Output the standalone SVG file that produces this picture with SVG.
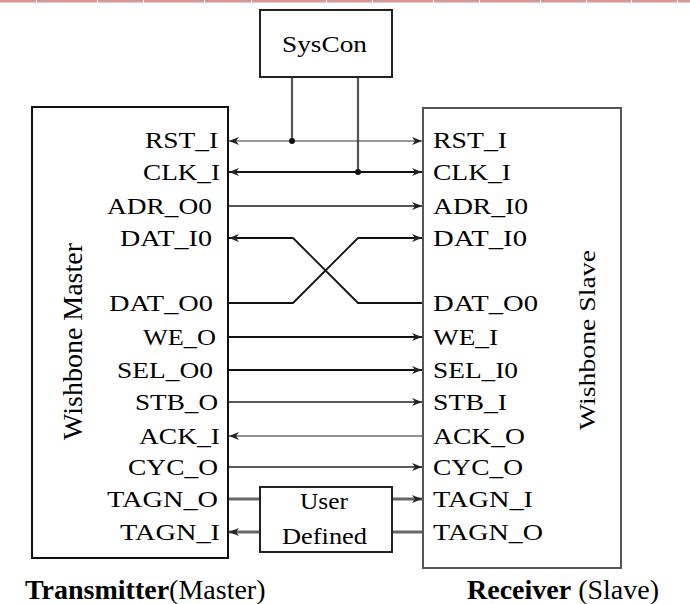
<svg xmlns="http://www.w3.org/2000/svg" width="690" height="604" viewBox="0 0 690 604">
<defs>
<style>
.lbl{font-family:"Liberation Serif","Times New Roman",serif;font-size:24px;fill:#000}
.cap{font-family:"Liberation Serif","Times New Roman",serif;font-size:28px;fill:#000}
.box{fill:#fff;stroke-width:2}
</style>
<marker id="arr" viewBox="0 0 10 8" refX="10" refY="4" markerWidth="10" markerHeight="8" markerUnits="userSpaceOnUse" orient="auto-start-reverse">
<path d="M0,0 L10,4 L0,8 L3,4 Z" fill="#222"/>
</marker>
</defs>
<rect width="690" height="604" fill="#fff"/>
<g id="topline">
<rect x="0" y="0" width="690" height="2.5" fill="#d99494"/>
<g fill="#fff">
<rect x="36" y="0" width="1" height="3"/><rect x="97" y="0" width="1" height="3"/><rect x="143" y="0" width="1" height="3"/><rect x="204" y="0" width="1" height="3"/><rect x="251" y="0" width="1" height="3"/><rect x="326" y="0" width="1" height="3"/><rect x="372" y="0" width="1" height="3"/><rect x="433" y="0" width="1" height="3"/><rect x="479" y="0" width="1" height="3"/><rect x="540" y="0" width="1" height="3"/><rect x="586" y="0" width="1" height="3"/><rect x="631" y="0" width="1" height="3"/><rect x="677" y="0" width="1" height="3"/>
</g>
</g>

<g id="connectors" fill="none">
<path d="M292,77 V141 M358,77 V172" stroke="#555" stroke-width="2.2"/>
<path d="M229,141 H422" stroke="#333" stroke-width="1.2" marker-start="url(#arr)" marker-end="url(#arr)"/>
<path d="M229,172 H422" stroke="#111" stroke-width="2" marker-start="url(#arr)" marker-end="url(#arr)"/>
<circle cx="292" cy="141" r="3" fill="#111"/>
<circle cx="358" cy="172" r="3" fill="#111"/>
<path d="M229,206 H422" stroke="#555" stroke-width="2" marker-end="url(#arr)"/>
<path d="M229,303 H293 L358,238 H422" stroke="#111" stroke-width="1.8" marker-end="url(#arr)"/>
<path d="M422,303 H358 L293,238 H229" stroke="#111" stroke-width="1.8" marker-end="url(#arr)"/>
<path d="M229,337 H422" stroke="#111" stroke-width="2" marker-end="url(#arr)"/>
<path d="M229,370 H422" stroke="#111" stroke-width="2.2" marker-end="url(#arr)"/>
<path d="M229,402 H422" stroke="#222" stroke-width="1.3" marker-end="url(#arr)"/>
<path d="M422,436 H229" stroke="#222" stroke-width="1.2" marker-end="url(#arr)"/>
<path d="M229,467 H422" stroke="#222" stroke-width="1.6" marker-end="url(#arr)"/>
<path d="M229,499 H260" stroke="#666" stroke-width="3"/>
<path d="M392,499 H422" stroke="#666" stroke-width="3" marker-end="url(#arr)"/>
<path d="M422,532 H392" stroke="#666" stroke-width="3"/>
<path d="M260,532 H229" stroke="#666" stroke-width="3" marker-end="url(#arr)"/>
</g>

<g id="syscon">
<rect class="box" x="260" y="10" width="132" height="67" stroke="#222"/>
<text class="lbl" x="282" y="52" font-size="25" textLength="85" lengthAdjust="spacingAndGlyphs">SysCon</text>
</g>

<g id="master">
<rect class="box" x="32" y="107" width="196" height="451" stroke="#111"/>
<text class="lbl" transform="translate(82,440) scale(1.1,1) rotate(-90)" font-size="28" textLength="197" lengthAdjust="spacingAndGlyphs">Wishbone Master</text>
<g class="lbl">
<text x="145" y="148" textLength="73" lengthAdjust="spacingAndGlyphs">RST_I</text>
<text x="143" y="180" textLength="77" lengthAdjust="spacingAndGlyphs">CLK_I</text>
<text x="107" y="214" textLength="105" lengthAdjust="spacingAndGlyphs">ADR_O0</text>
<text x="120" y="246" textLength="92" lengthAdjust="spacingAndGlyphs">DAT_I0</text>
<text x="109" y="311" textLength="104" lengthAdjust="spacingAndGlyphs">DAT_O0</text>
<text x="143" y="345" textLength="73" lengthAdjust="spacingAndGlyphs">WE_O</text>
<text x="117" y="378" textLength="96" lengthAdjust="spacingAndGlyphs">SEL_O0</text>
<text x="135" y="410" textLength="83" lengthAdjust="spacingAndGlyphs">STB_O</text>
<text x="139" y="444" textLength="81" lengthAdjust="spacingAndGlyphs">ACK_I</text>
<text x="128" y="475" textLength="90" lengthAdjust="spacingAndGlyphs">CYC_O</text>
<text x="107" y="507" textLength="111" lengthAdjust="spacingAndGlyphs">TAGN_O</text>
<text x="120" y="540" textLength="100" lengthAdjust="spacingAndGlyphs">TAGN_I</text>
</g>
</g>

<g id="slave">
<rect class="box" x="423" y="108" width="198" height="460" stroke="#555"/>
<text class="lbl" transform="translate(595,430) scale(0.95,1) rotate(-90)" font-size="27" textLength="180" lengthAdjust="spacingAndGlyphs">Wishbone Slave</text>
<g class="lbl">
<text x="433" y="148" textLength="74" lengthAdjust="spacingAndGlyphs">RST_I</text>
<text x="433" y="180" textLength="78" lengthAdjust="spacingAndGlyphs">CLK_I</text>
<text x="433" y="214" textLength="95" lengthAdjust="spacingAndGlyphs">ADR_I0</text>
<text x="433" y="246" textLength="94" lengthAdjust="spacingAndGlyphs">DAT_I0</text>
<text x="433" y="311" textLength="105" lengthAdjust="spacingAndGlyphs">DAT_O0</text>
<text x="433" y="345" textLength="65" lengthAdjust="spacingAndGlyphs">WE_I</text>
<text x="433" y="378" textLength="85" lengthAdjust="spacingAndGlyphs">SEL_I0</text>
<text x="433" y="410" textLength="74" lengthAdjust="spacingAndGlyphs">STB_I</text>
<text x="433" y="444" textLength="92" lengthAdjust="spacingAndGlyphs">ACK_O</text>
<text x="433" y="475" textLength="90" lengthAdjust="spacingAndGlyphs">CYC_O</text>
<text x="433" y="507" textLength="100" lengthAdjust="spacingAndGlyphs">TAGN_I</text>
<text x="433" y="540" textLength="110" lengthAdjust="spacingAndGlyphs">TAGN_O</text>
</g>
</g>

<g id="userdefined">
<rect class="box" x="260" y="487" width="132" height="65" stroke="#222"/>
<text class="lbl" x="300" y="509" textLength="48" lengthAdjust="spacingAndGlyphs">User</text>
<text class="lbl" x="282" y="544" textLength="85" lengthAdjust="spacingAndGlyphs">Defined</text>
</g>

<g id="captions">
<text class="cap" x="25" y="599"><tspan font-weight="bold">Transmitter</tspan>(Master)</text>
<text class="cap" x="467" y="599"><tspan font-weight="bold">Receiver</tspan> (Slave)</text>
</g>
</svg>
